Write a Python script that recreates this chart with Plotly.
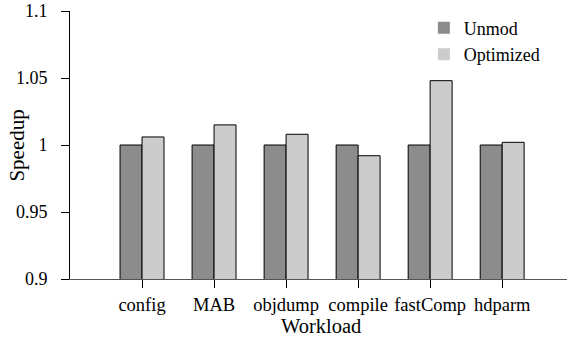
import plotly.graph_objects as go

workloads = ["config", "MAB", "objdump", "compile", "fastComp", "hdparm"]
unmod = [1.0, 1.0, 1.0, 1.0, 1.0, 1.0]
optimized = [1.006, 1.015, 1.008, 0.992, 1.048, 1.002]
y_ticks = [0.9, 0.95, 1.0, 1.05, 1.1]
y_tick_text = ["0.9", "0.95", "1", "1.05", "1.1"]
series_names = ["Unmod", "Optimized"]
series_colors = ["#8c8c8c", "#cccccc"]

x_idx = list(range(len(workloads)))
font = "'Liberation Serif', 'Times New Roman', serif"

fig = go.Figure()
for name, vals, col in zip(series_names, [unmod, optimized], series_colors):
    fig.add_trace(go.Bar(x=x_idx, y=vals, name=name, showlegend=False,
                         marker=dict(color=col, line=dict(color="black", width=1))))
# legend entries: plain squares
for name, col in zip(series_names, series_colors):
    fig.add_trace(go.Scatter(x=[None], y=[None], mode="markers", name=name,
                             marker=dict(symbol="square", size=12, color=col,
                                         line=dict(width=0))))

fig.update_layout(
    width=567, height=339,
    margin=dict(l=70, r=0, t=11, b=60),
    paper_bgcolor="white", plot_bgcolor="white",
    barmode="group", bargap=0.39, bargroupgap=0,
    font=dict(family=font, size=18, color="black"),
    legend=dict(x=0.712, y=1.005, xanchor="left", yanchor="top",
                bgcolor="rgba(0,0,0,0)", font=dict(family=font, size=18, color="black"),
                tracegroupgap=0),
    showlegend=True,
    annotations=[
        dict(text="Speedup", xref="paper", yref="paper", x=-0.1056, y=0.496,
             xanchor="center", yanchor="middle", textangle=-90, showarrow=False,
             font=dict(family=font, size=21, color="black")),
        dict(text="Workload", xref="paper", yref="paper", x=0.506, y=-0.176,
             xanchor="center", yanchor="middle", showarrow=False,
             font=dict(family=font, size=20.5, color="black")),
    ],
)
fig.update_xaxes(
    range=[-1, 5.9], tickvals=x_idx, ticktext=workloads,
    tickfont=dict(family=font, size=18.5, color="black"),
    ticks="outside", ticklen=8, tickcolor="black", ticklabelstandoff=1,
    showline=True, linecolor="#555555", linewidth=1,
    showgrid=False, zeroline=False,
)
fig.update_yaxes(
    range=[0.9, 1.1], tickvals=y_ticks, ticktext=y_tick_text,
    tickfont=dict(family=font, size=18, color="black"),
    ticks="outside", ticklen=8, tickcolor="black", ticklabelstandoff=10,
    showline=True, linecolor="black", linewidth=1,
    showgrid=False, zeroline=False,
)

fig.write_html("out.html")
